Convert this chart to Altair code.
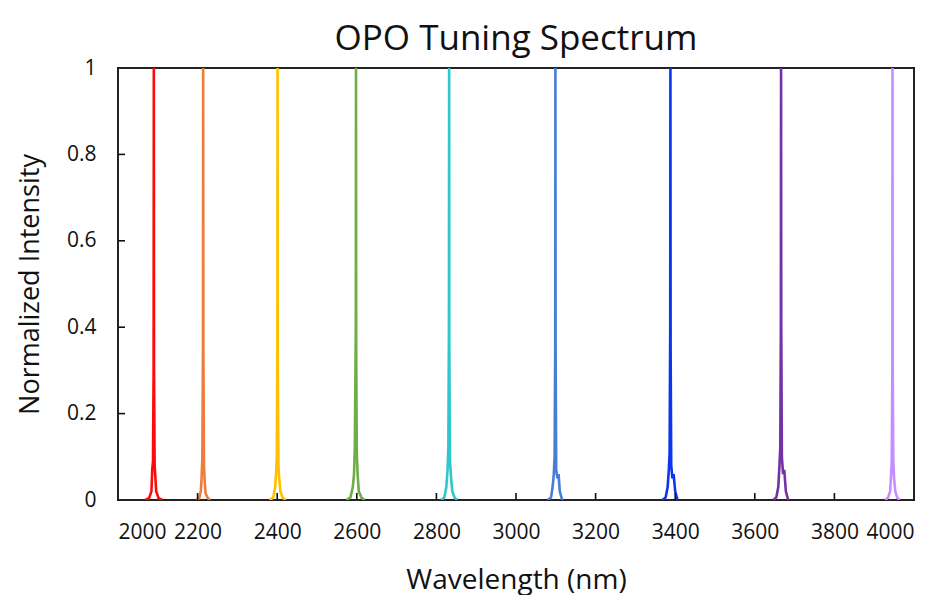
import altair as alt
import pandas as pd

series_names = ["S1", "S2", "S3", "S4", "S5", "S6", "S7", "S8", "S9"]
series_colors = ["#FF0A0A", "#EE7D3A", "#FFC000", "#6FAD47", "#2FC7CB",
                 "#477ED9", "#0A37EC", "#7332A6", "#C58EFF"]

wl_1 = [2068, 2078, 2084, 2086, 2088, 2089.5, 2090, 2090.5, 2092, 2094, 2096, 2102, 2112]
in_1 = [0, 0.004, 0.02, 0.07, 0.09, 0.3, 1.0, 0.3, 0.08, 0.05, 0.02, 0.004, 0]
wl_2 = [2196, 2204, 2208, 2210, 2212, 2213.5, 2214, 2214.5, 2216, 2218, 2220, 2226, 2232]
in_2 = [0, 0.004, 0.02, 0.05, 0.1, 0.35, 1.0, 0.35, 0.08, 0.04, 0.015, 0.004, 0]
wl_3 = [2380, 2390, 2395, 2397, 2399, 2400.5, 2401, 2401.5, 2403, 2405, 2408, 2414, 2422]
in_3 = [0, 0.005, 0.03, 0.06, 0.1, 0.35, 1.0, 0.3, 0.08, 0.05, 0.02, 0.005, 0]
wl_4 = [2574, 2584, 2590, 2593, 2595, 2597.5, 2598, 2598.5, 2600, 2602, 2605, 2612, 2620]
in_4 = [0, 0.006, 0.03, 0.06, 0.12, 0.4, 1.0, 0.35, 0.11, 0.06, 0.02, 0.005, 0]
wl_5 = [2812, 2820, 2825, 2828, 2830, 2831.5, 2832, 2832.5, 2834, 2837, 2840, 2846, 2852]
in_5 = [0, 0.006, 0.03, 0.07, 0.12, 0.4, 1.0, 0.35, 0.09, 0.05, 0.02, 0.005, 0]
wl_6 = [3080, 3088, 3092, 3095, 3097, 3098.5, 3099, 3099.5, 3101, 3104, 3107, 3110, 3116]
in_6 = [0, 0.006, 0.03, 0.06, 0.1, 0.35, 1.0, 0.35, 0.07, 0.05, 0.06, 0.02, 0]
wl_7 = [3368, 3376, 3381, 3384, 3386, 3387.5, 3388, 3388.5, 3390, 3393, 3396, 3400, 3406]
in_7 = [0, 0.006, 0.03, 0.07, 0.11, 0.4, 1.0, 0.35, 0.08, 0.05, 0.06, 0.02, 0]
wl_8 = [3646, 3654, 3659, 3662, 3664, 3665.5, 3666, 3666.5, 3668, 3671, 3674, 3678, 3684]
in_8 = [0, 0.006, 0.03, 0.08, 0.12, 0.4, 1.0, 0.4, 0.1, 0.06, 0.07, 0.02, 0]
wl_9 = [3928, 3935, 3940, 3942, 3944, 3945.5, 3946, 3946.5, 3948, 3950, 3953, 3958, 3964]
in_9 = [0, 0.006, 0.02, 0.05, 0.09, 0.3, 1.0, 0.3, 0.09, 0.05, 0.02, 0.005, 0]

all_wl = [wl_1, wl_2, wl_3, wl_4, wl_5, wl_6, wl_7, wl_8, wl_9]
all_in = [in_1, in_2, in_3, in_4, in_5, in_6, in_7, in_8, in_9]

x_ticks = [2000, 2200, 2400, 2600, 2800, 3000, 3200, 3400, 3600, 3800, 4000]
y_ticks = [0, 0.2, 0.4, 0.6, 0.8, 1]

rows = []
for name, wls, ins in zip(series_names, all_wl, all_in):
    for w, v in zip(wls, ins):
        rows.append({"series": name, "wl": w, "inten": v})
df = pd.DataFrame(rows)

FONT = "Open Sans"
xscale = alt.Scale(domain=[2000, 4000], nice=False, zero=False)
yscale = alt.Scale(domain=[0, 1], nice=False)

lines = alt.Chart(df).mark_line(strokeWidth=2.6, clip=True).encode(
    x=alt.X("wl:Q", scale=xscale,
            axis=alt.Axis(values=x_ticks, format="d", title="Wavelength (nm)",
                          ticks=False, domain=False, grid=False,
                          labelPadding=21, titlePadding=24,
                          labelFontSize=21, titleFontSize=28,
                          labelFont=FONT, titleFont=FONT,
                          labelColor="#111", titleColor="#111",
                          titleFontWeight="normal")),
    y=alt.Y("inten:Q", scale=yscale,
            axis=alt.Axis(values=y_ticks, format="~g", title="Normalized Intensity",
                          ticks=False, domain=False, grid=False,
                          labelPadding=22, titlePadding=22,
                          labelFontSize=21, titleFontSize=27,
                          labelFont=FONT, titleFont=FONT,
                          labelColor="#111", titleColor="#111",
                          titleFontWeight="normal")),
    color=alt.Color("series:N", scale=alt.Scale(domain=series_names, range=series_colors),
                    legend=None),
    order=alt.Order("wl:Q"),
)

xtick_df = pd.DataFrame({"wl": x_ticks[1:-1]})
ytick_df = pd.DataFrame({"inten": y_ticks[1:-1]})

xticks = alt.Chart(xtick_df).mark_rule(color="#111", strokeWidth=1.6).encode(
    x=alt.X("wl:Q", scale=xscale),
    y=alt.value(432), y2=alt.value(425),
)
yticks = alt.Chart(ytick_df).mark_rule(color="#111", strokeWidth=1.6).encode(
    y=alt.Y("inten:Q", scale=yscale),
    x=alt.value(0), x2=alt.value(7),
)

chart = alt.layer(lines, xticks, yticks).properties(
    width=796, height=432,
    background="white",
    title=alt.TitleParams("OPO Tuning Spectrum", fontSize=35, font=FONT,
                          fontWeight="normal", color="#111", offset=0),
    autosize=alt.AutoSizeParams(type="none"),
    padding={"left": 110, "top": 60, "right": 20, "bottom": 95},
).configure_view(stroke="#222", strokeWidth=2)

chart.save("out.html", embed_options={"renderer": "svg", "actions": False})
